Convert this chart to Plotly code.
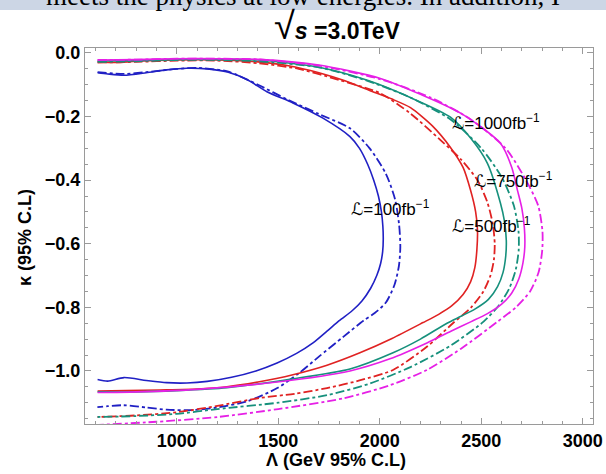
import plotly.graph_objects as go

# ---------------- data ----------------
b_sol_x = [610, 660, 740, 850, 950, 1050, 1150, 1250, 1350, 1444, 1572, 1720, 1853, 1900, 1940, 1970, 1993, 2008, 2015, 2017, 2014, 2004, 1985, 1955, 1912, 1865, 1800, 1740, 1671, 1590, 1494, 1390, 1270, 1150, 1050, 950, 850, 740, 660, 610]
b_sol_y = [-0.062, -0.066, -0.070, -0.062, -0.053, -0.048, -0.050, -0.060, -0.085, -0.122, -0.157, -0.205, -0.263, -0.300, -0.350, -0.400, -0.450, -0.500, -0.545, -0.585, -0.625, -0.662, -0.700, -0.740, -0.780, -0.810, -0.842, -0.875, -0.912, -0.945, -0.975, -1.000, -1.020, -1.033, -1.038, -1.037, -1.030, -1.021, -1.032, -1.027]

b_dd_x = [610, 740, 850, 1000, 1100, 1250, 1400, 1550, 1700, 1853, 1950, 2030, 2075, 2095, 2101, 2094, 2072, 2030, 1975, 1919, 1820, 1700, 1600, 1495, 1350, 1200, 1082, 950, 850, 737, 660, 609]
b_dd_y = [-0.060, -0.066, -0.060, -0.050, -0.047, -0.058, -0.100, -0.148, -0.192, -0.237, -0.300, -0.380, -0.460, -0.540, -0.610, -0.670, -0.730, -0.785, -0.818, -0.842, -0.893, -0.955, -1.008, -1.054, -1.095, -1.115, -1.123, -1.122, -1.115, -1.108, -1.111, -1.114]

r_sol_x = [610, 700, 800, 1000, 1200, 1400, 1550, 1700, 1821, 1950, 2060, 2151, 2260, 2348, 2410, 2447, 2472, 2481, 2478, 2468, 2447, 2410, 2355, 2290, 2213, 2060, 1902, 1740, 1572, 1400, 1247, 1100, 917, 750, 610]
r_sol_y = [-0.028, -0.030, -0.026, -0.022, -0.022, -0.028, -0.040, -0.062, -0.086, -0.118, -0.145, -0.172, -0.230, -0.297, -0.360, -0.432, -0.500, -0.557, -0.620, -0.675, -0.720, -0.760, -0.795, -0.822, -0.848, -0.898, -0.943, -0.982, -1.012, -1.035, -1.050, -1.057, -1.060, -1.062, -1.063]

r_dd_x = [610, 800, 1000, 1200, 1400, 1600, 1800, 2003, 2150, 2299, 2400, 2481, 2530, 2557, 2566, 2562, 2545, 2510, 2450, 2360, 2230, 2065, 1900, 1740, 1580, 1410, 1200, 1000, 800, 610]
r_dd_y = [-0.030, -0.028, -0.024, -0.024, -0.032, -0.050, -0.085, -0.127, -0.190, -0.274, -0.335, -0.400, -0.470, -0.540, -0.600, -0.650, -0.700, -0.750, -0.800, -0.850, -0.925, -0.997, -1.030, -1.054, -1.072, -1.085, -1.110, -1.130, -1.140, -1.145]

t_sol_x = [610, 800, 1000, 1200, 1400, 1700, 1939, 2150, 2348, 2450, 2530, 2594, 2614, 2623, 2620, 2607, 2580, 2535, 2470, 2400, 2331, 2200, 2065, 1853, 1572, 1247, 1000, 800, 610]
t_sol_y = [-0.025, -0.024, -0.020, -0.020, -0.022, -0.045, -0.086, -0.140, -0.202, -0.270, -0.347, -0.472, -0.530, -0.590, -0.640, -0.690, -0.735, -0.775, -0.805, -0.828, -0.850, -0.900, -0.943, -0.994, -1.025, -1.053, -1.062, -1.066, -1.066]

t_dd_x = [610, 800, 1000, 1200, 1400, 1700, 1950, 2150, 2350, 2500, 2600, 2660, 2683, 2684, 2670, 2638, 2585, 2511, 2350, 2151, 1950, 1742, 1500, 1200, 1000, 800, 610]
t_dd_y = [-0.028, -0.026, -0.022, -0.022, -0.026, -0.045, -0.090, -0.140, -0.210, -0.300, -0.390, -0.480, -0.560, -0.620, -0.680, -0.740, -0.795, -0.845, -0.920, -0.988, -1.040, -1.076, -1.100, -1.120, -1.135, -1.142, -1.145]

m_sol_x = [610, 800, 1000, 1200, 1400, 1700, 2003, 2200, 2400, 2594, 2650, 2678, 2700, 2712, 2714, 2705, 2685, 2650, 2600, 2530, 2450, 2350, 2232, 2050, 1853, 1494, 1100, 800, 610]
m_sol_y = [-0.022, -0.021, -0.018, -0.018, -0.020, -0.038, -0.080, -0.130, -0.190, -0.284, -0.360, -0.432, -0.490, -0.550, -0.610, -0.660, -0.710, -0.755, -0.790, -0.820, -0.845, -0.875, -0.912, -0.962, -1.000, -1.035, -1.058, -1.066, -1.068]

m_dd_x = [610, 800, 1000, 1200, 1400, 1700, 2000, 2250, 2450, 2620, 2720, 2780, 2801, 2800, 2782, 2740, 2670, 2580, 2400, 2232, 2050, 1822, 1500, 1200, 900, 610]
m_dd_y = [-0.022, -0.021, -0.018, -0.018, -0.020, -0.040, -0.082, -0.140, -0.210, -0.300, -0.400, -0.480, -0.560, -0.620, -0.690, -0.750, -0.800, -0.845, -0.930, -0.997, -1.045, -1.086, -1.120, -1.145, -1.160, -1.170]

label_text = ["ℒ=100fb<sup>−1</sup>", "ℒ=500fb<sup>−1</sup>", "ℒ=750fb<sup>−1</sup>", "ℒ=1000fb<sup>−1</sup>"]
label_x = [1880, 2373, 2486, 2373]
label_y = [-0.488, -0.542, -0.400, -0.217]

x_ticks = [1000, 1500, 2000, 2500, 3000]
y_ticks = [0.0, -0.2, -0.4, -0.6, -0.8, -1.0]

title_text = "<span style='font-size:38px;font-weight:normal'>√</span><i>s</i> =3.0TeV"
x_title = "Λ (GeV 95% C.L)"
y_title = "κ (95% C.L)"
header_text = "meets the physics at low energies. In addition, I"

# ---------------- figure ----------------
BLUE = "#2020c4"
RED = "#e02222"
TEAL = "#16907c"
MAG = "#e620e6"

series = [
    (b_sol_x, b_sol_y, BLUE, "solid", 1.6),
    (b_dd_x, b_dd_y, BLUE, "dashdot", 1.8),
    (r_sol_x, r_sol_y, RED, "solid", 1.6),
    (r_dd_x, r_dd_y, RED, "dashdot", 1.8),
    (t_sol_x, t_sol_y, TEAL, "solid", 1.6),
    (t_dd_x, t_dd_y, TEAL, "dashdot", 1.8),
    (m_sol_x, m_sol_y, MAG, "solid", 1.6),
    (m_dd_x, m_dd_y, MAG, "dashdot", 1.8),
]

fig = go.Figure()
for xs, ys, col, dash, w in series:
    fig.add_trace(go.Scatter(x=xs, y=ys, mode="lines", cliponaxis=False,
                             line=dict(color=col, dash=dash, width=w, shape="spline", smoothing=0.7),
                             showlegend=False, hoverinfo="skip"))

for t, x, y in zip(label_text, label_x, label_y):
    fig.add_annotation(x=x, y=y, text=t, showarrow=False, xanchor="left", yanchor="middle", xshift=-6,
                       font=dict(family="Liberation Sans, DejaVu Sans, Arial", size=17, color="black"))

FRAME = "#9a9a9a"
tickfont = dict(family="Liberation Sans, Arial", size=18, color="black", weight="bold")
axfont = dict(family="Liberation Sans, Arial", size=18, color="black", weight="bold")
fig.update_xaxes(range=[548, 3050], tickvals=x_ticks, ticks="inside", ticklen=6, tickcolor=FRAME,
                 showline=True, linecolor=FRAME, linewidth=1, mirror="allticks", showgrid=False,
                 zeroline=False, tickfont=tickfont, automargin=False,
                 minor=dict(dtick=100, ticks="inside", ticklen=3, tickcolor=FRAME, showgrid=False))
fig.update_yaxes(range=[-1.167, 0.0157], tickvals=y_ticks, tickformat=".1f", ticks="inside", ticklen=6,
                 tickcolor=FRAME, showline=True, linecolor=FRAME, linewidth=1, mirror="allticks",
                 showgrid=False, zeroline=False, tickfont=tickfont, automargin=False,
                 minor=dict(dtick=0.05, tick0=0, ticks="inside", ticklen=3, tickcolor=FRAME, showgrid=False))

PW, PH = 508.0, 376.0
def px(xp):
    return (xp - 85) / PW
def py(yp):
    return 1 - (yp - 48) / PH

# axis titles
fig.add_annotation(xref="paper", yref="paper", x=px(336), y=py(460), text=x_title, showarrow=False,
                   xanchor="center", yanchor="middle", font=axfont)
fig.add_annotation(xref="paper", yref="paper", x=px(25), y=py(238), text=y_title, showarrow=False,
                   textangle=-90, xanchor="center", yanchor="middle", font=axfont)

# chart title
fig.add_annotation(xref="paper", yref="paper", x=px(337), y=py(26), text=title_text,
                   showarrow=False, xanchor="center", yanchor="middle",
                   font=dict(family="Liberation Sans, Arial", size=23, color="black", weight="bold"))

# header strip of the source page
fig.add_shape(type="rect", xref="paper", yref="paper", x0=px(0), x1=px(606),
              y0=py(10), y1=py(-20), fillcolor="#ccd6e5", line=dict(width=0), layer="below")
fig.add_annotation(xref="paper", yref="paper", x=px(303), y=py(7), text=header_text,
                   showarrow=False, xanchor="center", yanchor="bottom", yshift=-6,
                   font=dict(family="Liberation Serif, Times New Roman", size=27, color="black"))

fig.update_layout(width=606, height=474, margin=dict(l=85, r=13, t=48, b=50, autoexpand=False),
                  plot_bgcolor="white", paper_bgcolor="white")
fig.write_html("out.html", config={"displayModeBar": False},
               post_script="document.body.style.margin='0';document.body.style.overflow='hidden';")
